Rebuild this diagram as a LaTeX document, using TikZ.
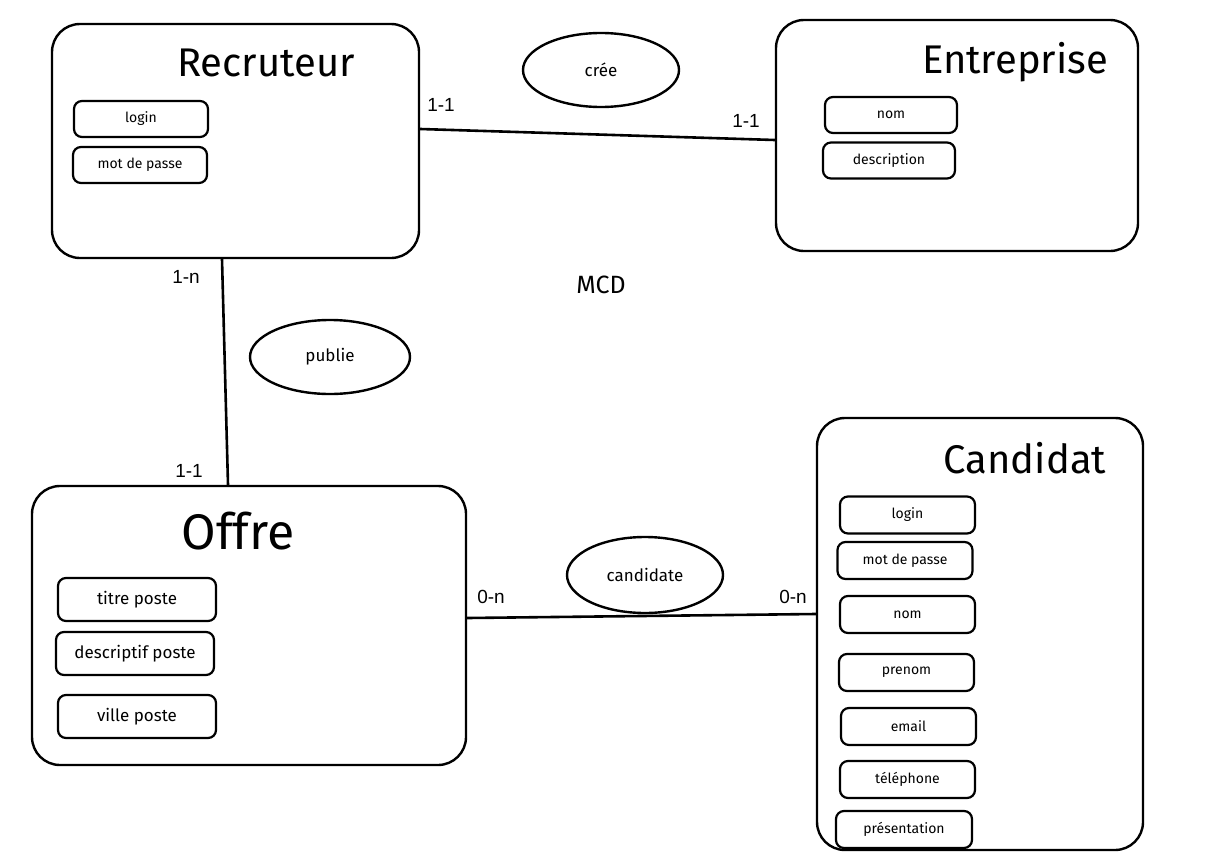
\documentclass[tikz,border=0pt]{standalone}
\usepackage{fontspec}
\setmainfont{Fira Sans}
\newfontfamily\cardfont{Liberation Sans}
\usepackage{tikz}
\usetikzlibrary{positioning,shapes.geometric}

\begin{document}
\begin{tikzpicture}[x=1pt,y=-1pt,line width=2.2pt,semithick]
  \tikzstyle{entity}=[draw=black,line width=2.4pt,rectangle,rounded corners=28pt,fill=none]
  \tikzstyle{attrib}=[draw=black,line width=2.2pt,rectangle,rounded corners=8pt,
                      minimum width=134pt,minimum height=36pt,inner sep=0pt,
                      font=\fontsize{14}{17}\selectfont]
  \tikzstyle{bigattrib}=[attrib,minimum width=158pt,minimum height=43pt,
                         font=\fontsize{17}{20}\selectfont]
  \tikzstyle{assoc}=[draw=black,line width=2.4pt,ellipse,minimum width=156pt,
                     minimum height=74pt,inner sep=0pt,font=\fontsize{17}{20}\selectfont]
  \tikzstyle{title}=[inner sep=0pt]
  \tikzstyle{card}=[inner sep=0pt,font=\cardfont\fontsize{19}{22}\selectfont]
  \tikzstyle{link}=[draw=black,line width=2.6pt]

  \useasboundingbox (0,0) rectangle (1225,859);

  % entites
  \node[entity,minimum width=367pt,minimum height=234pt] (rec)  at (235.5,141)  {};
  \node[entity,minimum width=362pt,minimum height=231pt] (ent)  at (957,135.5)  {};
  \node[entity,minimum width=434pt,minimum height=279pt] (off)  at (249,625.5)  {};
  \node[entity,minimum width=326pt,minimum height=432pt] (cand) at (980,634)    {};

  \node[title,font=\fontsize{40}{46}\selectfont] (recT)  at (266,63)  {Recruteur};
  \node[title,font=\fontsize{40}{46}\selectfont] (entT)  at (1015,62) {Entreprise};
  \node[title,font=\fontsize{50}{56}\selectfont] (offT)  at (238,531) {Offre};
  \node[title,font=\fontsize{40}{46}\selectfont] (candT) at (1025,458) {Candidat};

  % attributs
  \node[attrib] (recLogin) at (141,119)   {login};
  \node[attrib] (recMdp)   at (140,165)   {mot de passe};
  \node[attrib,minimum width=132pt] (entNom)   at (891,115)   {nom};
  \node[attrib,minimum width=132pt] (entDesc)  at (889,160.5) {description};

  \node[bigattrib] (offTitre) at (137,599.5) {titre poste};
  \node[bigattrib] (offDesc)  at (135,653.5) {descriptif poste};
  \node[bigattrib] (offVille) at (137,716.5) {ville poste};

  \node[attrib,minimum width=135pt,minimum height=37pt] (candLogin) at (907.5,515)   {login};
  \node[attrib,minimum width=135pt,minimum height=37pt] (candMdp)   at (905,560.5)   {mot de passe};
  \node[attrib,minimum width=135pt,minimum height=37pt] (candNom)   at (907.5,614.5) {nom};
  \node[attrib,minimum width=135pt,minimum height=37pt] (candPre)   at (906.5,672.5) {prenom};
  \node[attrib,minimum width=135pt,minimum height=37pt] (candMail)  at (908.5,726.5) {email};
  \node[attrib,minimum width=135pt,minimum height=37pt] (candTel)   at (907.5,779.5) {téléphone};
  \node[attrib,minimum width=136pt,minimum height=37pt] (candPres)  at (904,829.5)   {présentation};

  % associations
  \node[assoc] (cree)  at (601,70)  {crée};
  \node[assoc,minimum width=160pt] (publie) at (330,357) {publie};
  \node[assoc,minimum height=76pt] (candidate) at (645,575) {candidate};

  \node[title,font=\fontsize{25}{30}\selectfont] (mcd) at (601,285) {MCD};

  % liens
  \path[link] ([yshift=12pt]rec.east) -- ([yshift=-4.5pt]ent.west);
  \path[link] ([xshift=-13.5pt]rec.south) -- ([xshift=-21pt]off.north);
  \path[link] ([yshift=7.5pt]off.east) -- ([yshift=20pt]cand.west);

  % cardinalites
  \node[card] (c1) at (441,105) {1-1};
  \node[card] (c2) at (746,121) {1-1};
  \node[card] (c3) at (186,277) {1-n};
  \node[card] (c4) at (189,471) {1-1};
  \node[card] (c5) at (491,597) {0-n};
  \node[card] (c6) at (793,597) {0-n};
\end{tikzpicture}
\end{document}
